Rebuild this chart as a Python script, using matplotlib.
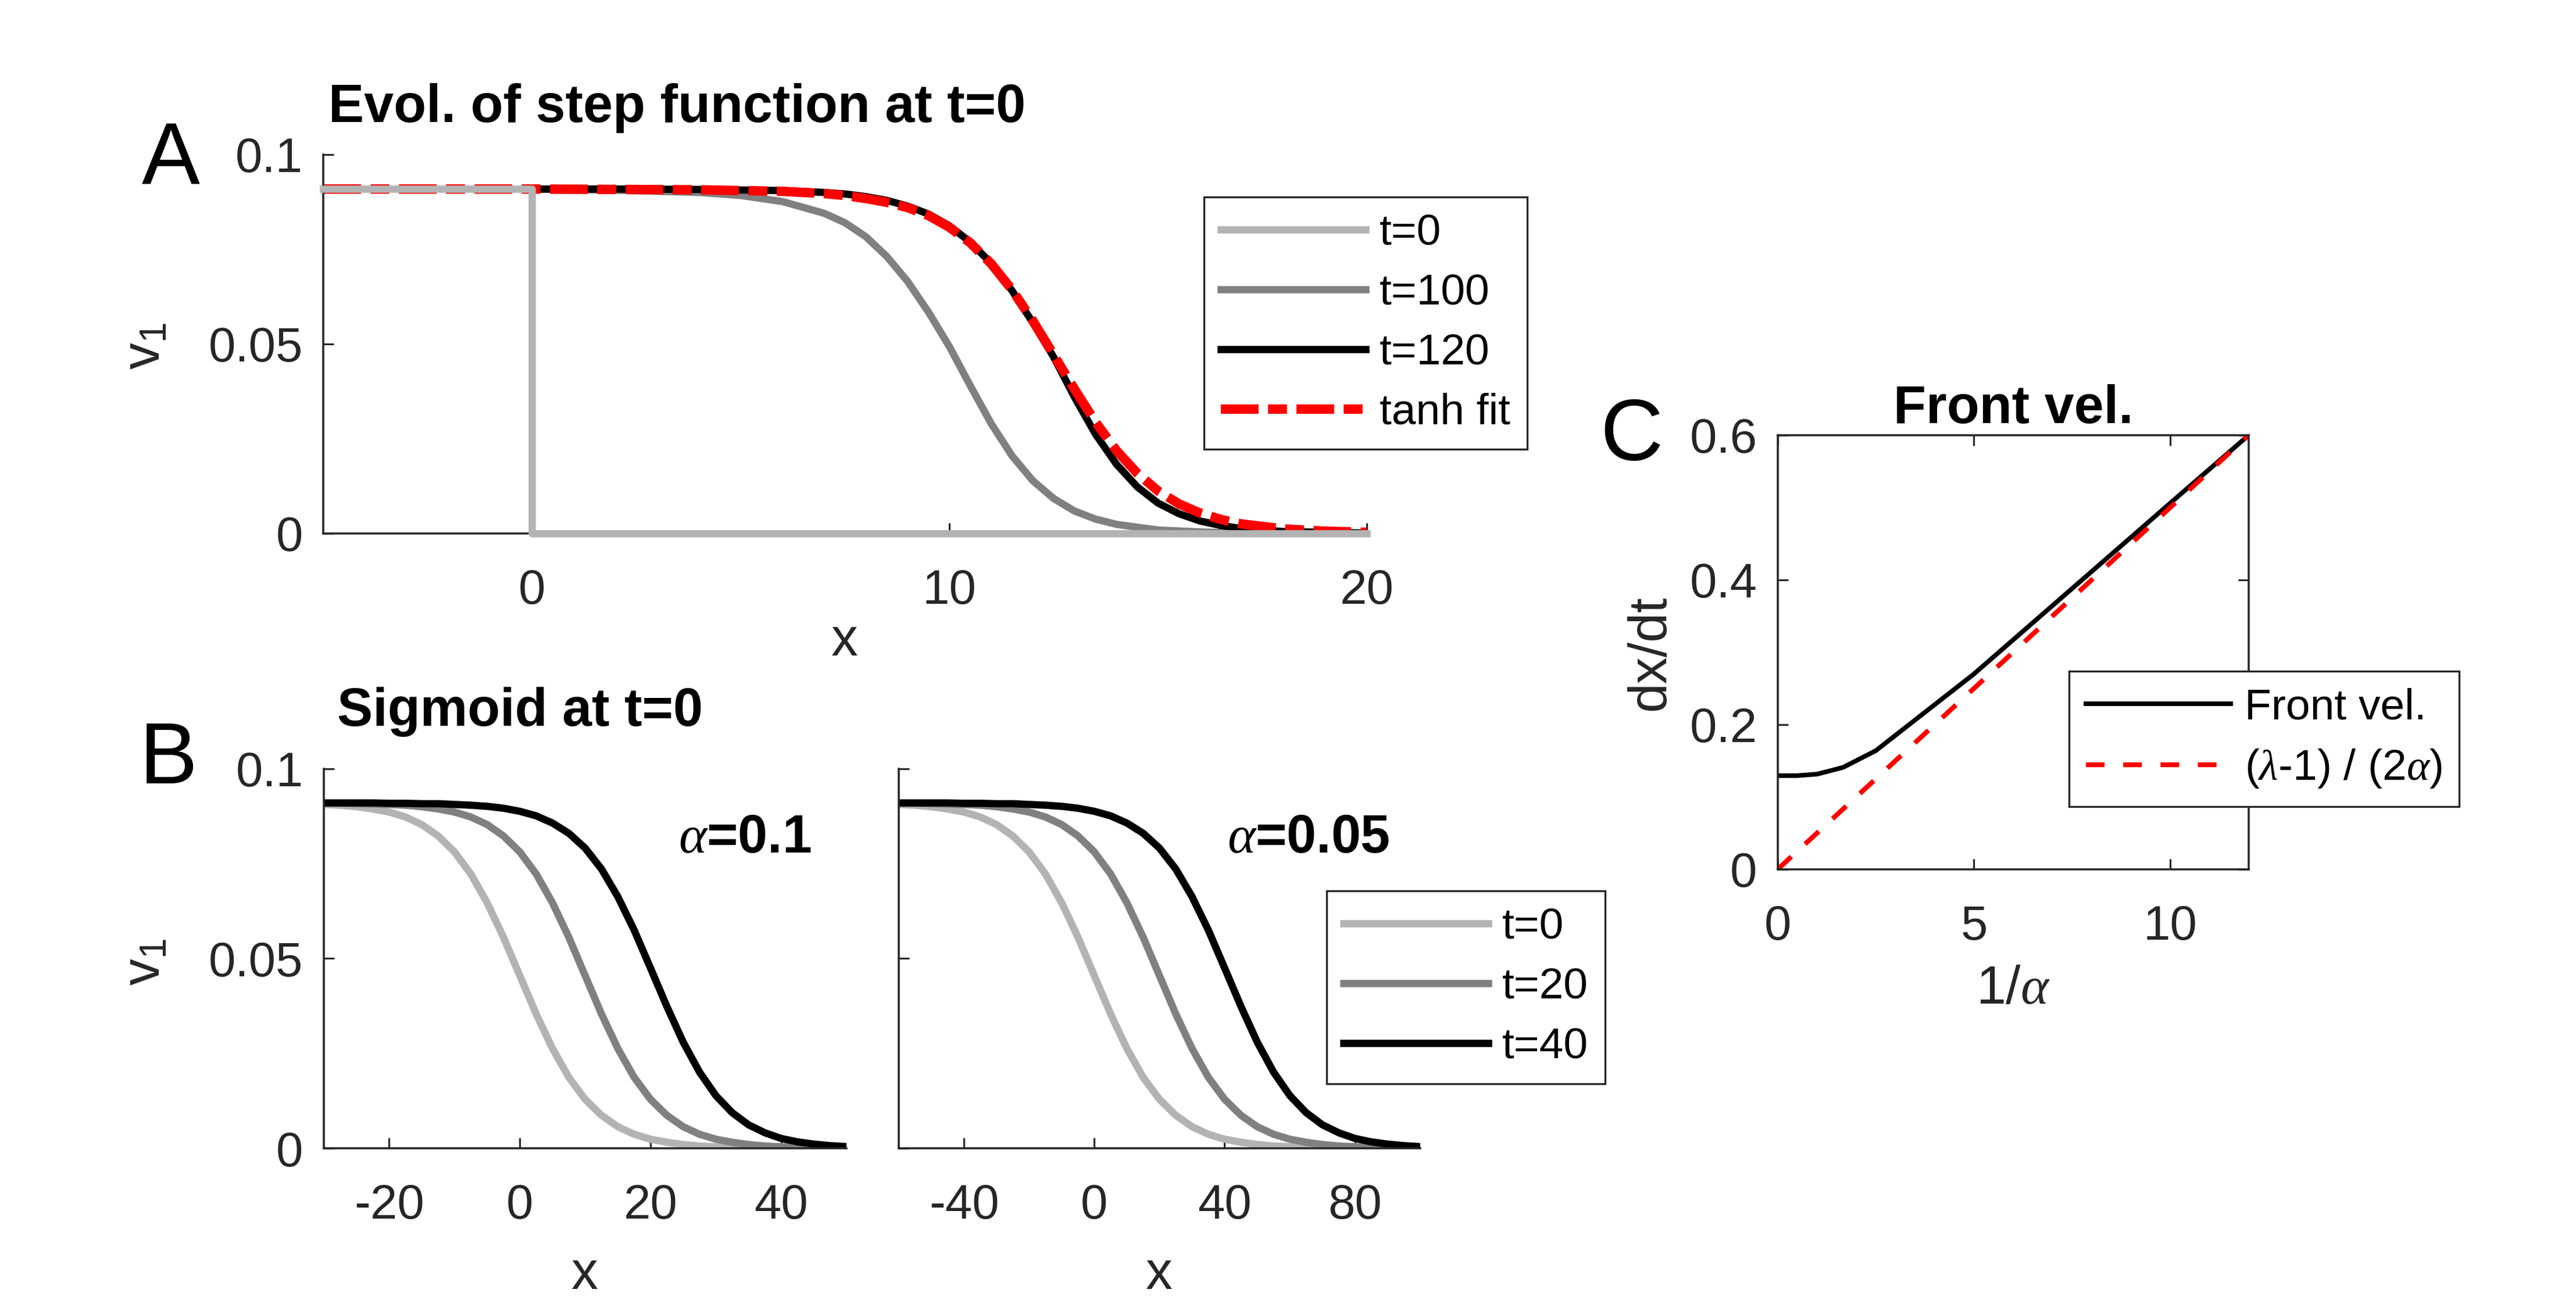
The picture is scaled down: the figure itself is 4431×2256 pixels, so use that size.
import numpy as np
import matplotlib
matplotlib.use('Agg')
import matplotlib.pyplot as plt

plt.rcParams['font.family'] = ['Liberation Sans', 'DejaVu Sans']
plt.rcParams['mathtext.fontset'] = 'custom'
plt.rcParams['mathtext.rm'] = 'Liberation Sans'
plt.rcParams['mathtext.it'] = 'Liberation Serif:italic'
plt.rcParams['mathtext.bf'] = 'Liberation Sans:bold'
plt.rcParams['axes.unicode_minus'] = False

# ---------------- Panel A data ----------------
xA_step = [-5, 0, 0, 20]
vA_t0 = [0.0909, 0.0909, 0.0, 0.0]

xA_t100 = [0, 2, 4, 5, 6, 7, 7.5, 8, 8.5, 9, 9.5, 10, 10.5, 11, 11.5, 12, 12.5, 13, 13.5, 14, 15, 16, 17, 20]
vA_t100 = [0.0909, 0.0906, 0.0900, 0.0892, 0.0876, 0.0845, 0.0820, 0.0783, 0.0731, 0.0665, 0.0584, 0.0493,
           0.0390, 0.0290, 0.0205, 0.0139, 0.0092, 0.0059, 0.0038, 0.0024, 0.0009, 0.0004, 0.0001, 0.0]

xA_t120 = [0, 2, 4, 6, 7, 7.5, 8, 8.5, 9, 9.5, 10, 10.5, 11, 11.5, 12, 12.5, 13, 13.5, 14, 14.5, 15, 15.5,
           16, 16.5, 17, 18, 20]
vA_t120 = [0.0909, 0.0909, 0.0908, 0.0905, 0.0900, 0.0896, 0.0889, 0.0879, 0.0864, 0.0843, 0.0812, 0.0769,
           0.0713, 0.0641, 0.0556, 0.0465, 0.0359, 0.0262, 0.0183, 0.0123, 0.0080, 0.0052, 0.0033, 0.0021,
           0.0013, 0.0005, 0.0001]

xA_fit = [-5, 0, 4, 6, 7, 7.5, 8, 8.5, 9, 9.5, 10, 10.5, 11, 11.5, 12, 12.5, 13, 13.5, 14, 14.5, 15, 15.5,
          16, 16.5, 17, 18, 19, 20]
vA_fit = [0.0909, 0.0909, 0.0907, 0.0903, 0.0897, 0.0892, 0.0884, 0.0874, 0.0860, 0.0839, 0.0808, 0.0767,
          0.0712, 0.0643, 0.0561, 0.0471, 0.0380, 0.0294, 0.0219, 0.0159, 0.0112, 0.0078, 0.0054, 0.0037,
          0.0025, 0.0012, 0.0006, 0.0003]

labels_A = ['t=0', 't=100', 't=120', 'tanh fit']

# ---------------- Panel B data ----------------
xB1 = np.arange(-30, 50.01, 2.5)      # alpha = 0.1 sample positions
xB2 = np.arange(-60, 100.01, 5.0)     # alpha = 0.05 sample positions
vB1_t0 = [0.0906, 0.0904, 0.0900, 0.0894, 0.0886, 0.0873, 0.0853, 0.0823, 0.0781, 0.0723, 0.0647, 0.0556,
          0.0455, 0.0354, 0.0263, 0.0187, 0.0129, 0.0087, 0.0057, 0.0037, 0.0024, 0.0016, 0.0010, 0.0006,
          0.0004, 0.0003, 0.0002, 0.0001, 0.0001, 0.00005, 0.00003, 0.00002, 0.00001]
vB1_t20 = [0.0909, 0.0909, 0.0908, 0.0907, 0.0906, 0.0904, 0.0900, 0.0894, 0.0886, 0.0873, 0.0853, 0.0823,
           0.0781, 0.0723, 0.0647, 0.0556, 0.0455, 0.0354, 0.0263, 0.0187, 0.0129, 0.0087, 0.0057, 0.0037,
           0.0024, 0.0016, 0.0010, 0.0006, 0.0004, 0.0003, 0.0002, 0.0001, 0.0001]
vB1_t40 = [0.0910, 0.0910, 0.0910, 0.0910, 0.0909, 0.0909, 0.0908, 0.0908, 0.0906, 0.0904, 0.0901, 0.0896,
           0.0888, 0.0876, 0.0857, 0.0830, 0.0791, 0.0736, 0.0663, 0.0575, 0.0475, 0.0374, 0.0280, 0.0201,
           0.0139, 0.0094, 0.0062, 0.0041, 0.0026, 0.0017, 0.0011, 0.0007, 0.00045]
vB2_t0 = [0.0906, 0.0904, 0.0900, 0.0894, 0.0886, 0.0873, 0.0853, 0.0823, 0.0781, 0.0723, 0.0647, 0.0556,
          0.0455, 0.0354, 0.0263, 0.0187, 0.0129, 0.0087, 0.0057, 0.0037, 0.0024, 0.0016, 0.0010, 0.0006,
          0.0004, 0.0003, 0.0002, 0.0001, 0.0001, 0.00005, 0.00003, 0.00002, 0.00001]
vB2_t20 = [0.0909, 0.0909, 0.0908, 0.0907, 0.0906, 0.0904, 0.0900, 0.0894, 0.0886, 0.0873, 0.0853, 0.0823,
           0.0781, 0.0723, 0.0647, 0.0556, 0.0455, 0.0354, 0.0263, 0.0187, 0.0129, 0.0087, 0.0057, 0.0037,
           0.0024, 0.0016, 0.0010, 0.0006, 0.0004, 0.0003, 0.0002, 0.0001, 0.0001]
vB2_t40 = [0.0910, 0.0910, 0.0910, 0.0910, 0.0909, 0.0909, 0.0908, 0.0908, 0.0906, 0.0904, 0.0901, 0.0896,
           0.0888, 0.0876, 0.0857, 0.0830, 0.0791, 0.0736, 0.0663, 0.0575, 0.0475, 0.0374, 0.0280, 0.0201,
           0.0139, 0.0094, 0.0062, 0.0041, 0.0026, 0.0017, 0.0011, 0.0007, 0.00045]
labels_B = ['t=0', 't=20', 't=40']

# ---------------- Panel C data ----------------
inv_alpha = [0, 0.5, 1.0, 1.25, 1.67, 2.5, 5.0, 10.0, 12.0]
front_vel = [0.1295, 0.1295, 0.1316, 0.1350, 0.1410, 0.1640, 0.2700, 0.5060, 0.6000]
theory_x = [0, 12]
theory_y = [0.0, 0.6]
labels_C = ['Front vel.', r'($\lambda$-1) / (2$\alpha$)']

# ---------------- styling ----------------
AXC = '#262626'
LIGHT, MID, DARK = '#b3b3b3', '#808080', 'black'
TICK_FS = 20
LAB_FS = 22
LEG_FS = 18
LW = 3.0

fig = plt.figure(figsize=(4431 / 300, 2256 / 300), dpi=300)


def style(ax, box=False):
    for s in ['top', 'right']:
        ax.spines[s].set_visible(box)
    for s in ax.spines.values():
        s.set_color(AXC)
        s.set_linewidth(0.85)
    ax.tick_params(direction='in', length=4.3, width=0.75, colors=AXC, labelsize=TICK_FS,
                   top=box, right=box)
    ax.tick_params(axis='x', pad=14.5)
    ax.tick_params(axis='y', pad=8.5)


def legend(ax, handles, labels, x0, y1):
    lg = ax.legend(handles, labels, loc='upper left', bbox_to_anchor=(x0, y1),
                   bbox_transform=fig.transFigure, borderaxespad=0, fontsize=LEG_FS,
                   frameon=True, fancybox=False, framealpha=1, edgecolor=AXC,
                   handlelength=3.33, handletextpad=0.32, labelspacing=0.45, borderpad=0.38)
    lg.get_frame().set_linewidth(0.8)
    return lg


# ---------------- Panel A ----------------
axA = fig.add_axes([0.1255, 0.5931, 0.4051, 0.2890])
h100, = axA.plot(xA_t100, vA_t100, color=MID, lw=LW)
h120, = axA.plot(xA_t120, vA_t120, color=DARK, lw=LW)
hfit, = axA.plot(xA_fit, vA_fit, color='red', lw=3.9, ls=(0, (4.0, 1.0, 2.0, 1.0)))
h0, = axA.plot(xA_step, vA_t0, color=LIGHT, lw=LW, solid_joinstyle='round', clip_on=False, zorder=3)
axA.set_xlim(-5, 20)
axA.set_ylim(0, 0.1)
axA.set_xticks([0, 10, 20])
axA.set_yticks([0, 0.05, 0.1])
axA.set_yticklabels(['0', '0.05', '0.1'])
style(axA)
legend(axA, [h0, h100, h120, hfit], labels_A, 2071 / 4431, 1 - 339 / 2256)

# ---------------- Panel B ----------------
axB1 = fig.add_axes([0.1257, 0.1241, 0.2029, 0.2895])
axB2 = fig.add_axes([0.3489, 0.1241, 0.2024, 0.2895])
hb = []
for ax, xs, vals in [(axB1, xB1, [vB1_t0, vB1_t20, vB1_t40]),
                     (axB2, xB2, [vB2_t0, vB2_t20, vB2_t40])]:
    hs = []
    for v, c in zip(vals, [LIGHT, MID, DARK]):
        h, = ax.plot(xs, v, color=c, lw=LW)
        hs.append(h)
    hb = hs
    ax.set_ylim(0, 0.1)
    ax.set_yticks([0, 0.05, 0.1])
axB1.set_xlim(-30, 50)
axB1.set_xticks([-20, 0, 20, 40])
axB1.set_yticklabels(['0', '0.05', '0.1'])
axB2.set_xlim(-60, 100)
axB2.set_xticks([-40, 0, 40, 80])
axB2.set_yticklabels([])
style(axB1)
style(axB2)
legend(axB2, hb, labels_B, 2282 / 4431, 1 - 1533 / 2256)

# ---------------- Panel C ----------------
axC = fig.add_axes([0.6901, 0.3369, 0.1828, 0.3311])
hc1, = axC.plot(inv_alpha, front_vel, color='black', lw=1.9)
hc2, = axC.plot(theory_x, theory_y, color='red', lw=2.0, ls=(0, (3.85, 3.85)))
axC.set_xlim(0, 12)
axC.set_ylim(0, 0.6)
axC.set_xticks([0, 5, 10])
axC.set_yticks([0, 0.2, 0.4, 0.6])
axC.set_yticklabels(['0', '0.2', '0.4', '0.6'])
style(axC, box=True)
axC.set_title('Front vel.', fontsize=22, fontweight='bold', pad=5)
legend(axC, [hc1, hc2], labels_C, 3559 / 4431, 1 - 1155 / 2256)

# ---------------- figure texts ----------------
fig.text(0.0662, 0.8768, 'A', fontsize=36, ha='center', va='center')
fig.text(0.0655, 0.4198, 'B', fontsize=36, ha='center', va='center')
fig.text(0.6335, 0.6662, 'C', fontsize=36, ha='center', va='center')
fig.text(0.1275, 0.9069, 'Evol. of step function at t=0', fontsize=22, fontweight='bold',
         ha='left', va='baseline')
fig.text(0.1309, 0.4464, 'Sigmoid at t=0', fontsize=22, fontweight='bold', ha='left', va='baseline')

fig.text(0.3280, 0.5106, 'x', fontsize=LAB_FS, color=AXC, ha='center', va='center')
fig.text(0.2270, 0.0275, 'x', fontsize=LAB_FS, color=AXC, ha='center', va='center')
fig.text(0.4500, 0.0275, 'x', fontsize=LAB_FS, color=AXC, ha='center', va='center')
fig.text(0.7815, 0.2450, r'1/$\alpha$', fontsize=LAB_FS, color=AXC, ha='center', va='center')
fig.text(0.0564, 0.7360, r'v$_1$', fontsize=LAB_FS, color=AXC, ha='center', va='center', rotation=90)
fig.text(0.0564, 0.2660, r'v$_1$', fontsize=LAB_FS, color=AXC, ha='center', va='center', rotation=90)
fig.text(0.6407, 0.5020, 'dx/dt', fontsize=LAB_FS, color=AXC, ha='center', va='center', rotation=90)

fig.text(0.2891, 0.3497, r'$\alpha$=0.1', fontsize=22, fontweight='bold', ha='center', va='baseline')
fig.text(0.5080, 0.3497, r'$\alpha$=0.05', fontsize=22, fontweight='bold', ha='center', va='baseline')

fig.savefig('out.png', dpi=300)
